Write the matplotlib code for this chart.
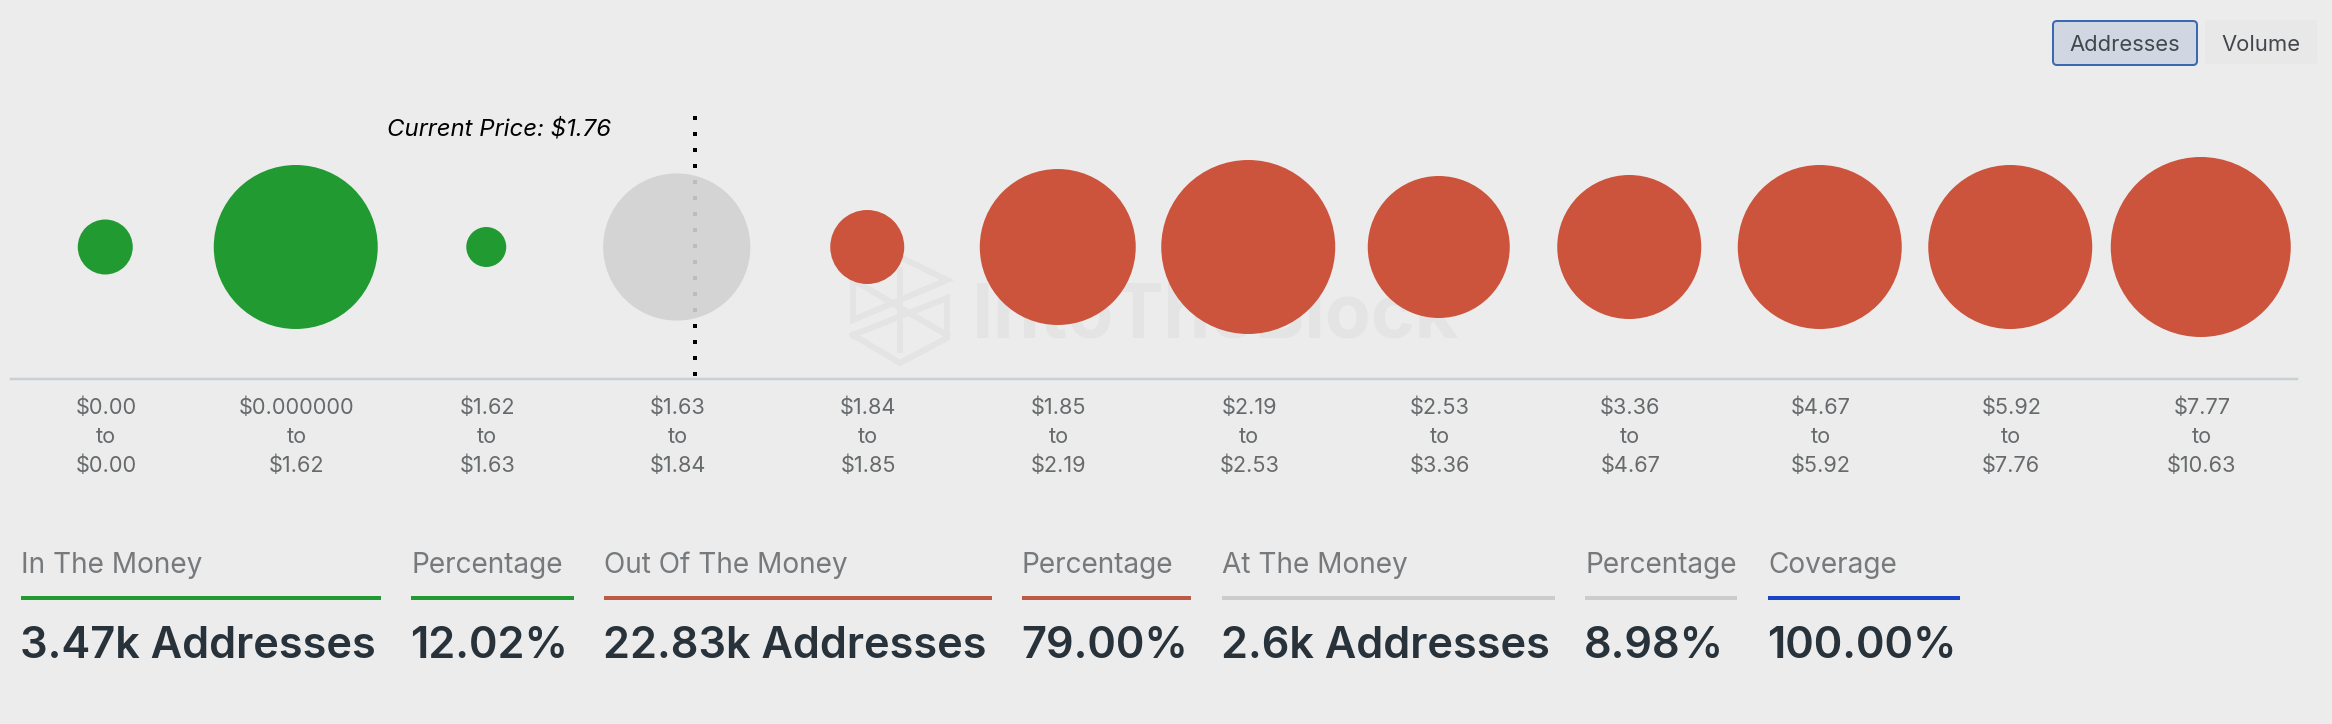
import matplotlib
matplotlib.use("Agg")
import numpy as np
import matplotlib.pyplot as plt
from matplotlib.patches import FancyBboxPatch
from matplotlib.transforms import Affine2D

# ---- data ----
range_labels = ["$0.00\nto\n$0.00", "$0.000000\nto\n$1.62", "$1.62\nto\n$1.63", "$1.63\nto\n$1.84",
                "$1.84\nto\n$1.85", "$1.85\nto\n$2.19", "$2.19\nto\n$2.53", "$2.53\nto\n$3.36",
                "$3.36\nto\n$4.67", "$4.67\nto\n$5.92", "$5.92\nto\n$7.76", "$7.77\nto\n$10.63"]
addresses = [369, 3281, 195, 2643, 668, 2968, 3693, 2460, 2530, 3281, 3281, 3953]
status = ["in", "in", "in", "at", "out", "out", "out", "out", "out", "out", "out", "out"]
current_price_position = 3.09
current_price_label = "Current Price: $1.76"

stat_titles = ["In The Money", "Percentage", "Out Of The Money", "Percentage", "At The Money", "Percentage", "Coverage"]
stat_values = ["3.47k Addresses", "12.02%", "22.83k Addresses", "79.00%", "2.6k Addresses", "8.98%", "100.00%"]
stat_kinds = ["in", "in", "out", "out", "at", "at", "cov"]
stat_left = [21, 411, 604, 1022, 1222, 1585, 1768]
stat_right = [381, 574, 992, 1191, 1555, 1737, 1960]

# ---- style ----
BG = "#ececec"
bubble_colors = {"in": "#229a32", "out": "#cc533c", "at": "#d2d2d2"}
rule_colors = {"in": "#229a32", "out": "#bc5a48", "at": "#cccccc", "cov": "#1a44c8"}
W, H, DPI = 2332, 724, 100
px = 72 / DPI
plt.rcParams["font.family"] = ["Inter", "DejaVu Sans"]

fig = plt.figure(figsize=(W / DPI, H / DPI), dpi=DPI, facecolor=BG)

# overlay in pixel coordinates (watermark, stats, buttons)
ov = fig.add_axes([0, 0, 1, 1], zorder=0)
ov.set_xlim(0, W); ov.set_ylim(H, 0); ov.axis("off")

# watermark
wm = "#e4e4e4"
for pts in ([(853, 280), (900, 257), (947, 280), (853, 320), (853, 280)],
            [(853, 335), (947, 298), (947, 338), (900, 363), (853, 335)],
            [(900, 270), (900, 350)], [(853, 280), (947, 335)]):
    xs, ys = zip(*pts)
    ov.plot(xs, ys, color=wm, lw=6 * px, solid_joinstyle="miter")
ov.text(972, 337, "IntoTheBlock", fontsize=75 * px, fontweight="bold", color=wm, ha="left", va="baseline")

# chart axes
ax = fig.add_axes([11 / W, 1 - 379 / H, (2297 - 11) / W, (379 - 100) / H], zorder=1)
ax.patch.set_alpha(0)
ax.set_xlim(-0.5, 11.5)
ax.set_ylim(-132, 147)
for s in ("top", "left", "right"):
    ax.spines[s].set_visible(False)
ax.spines["bottom"].set_color("#c8d0d3")
ax.spines["bottom"].set_linewidth(2.5 * px)
ax.set_yticks([])
ax.set_xticks(range(len(range_labels)))
ax.set_xticklabels(range_labels, fontsize=21.7 * px, color="#666a6c", linespacing=1.53)
ax.tick_params(axis="x", length=0, pad=13.5)

ax.axvline(current_price_position, ymin=0.0108, ymax=0.9427, color="black", lw=4 * px,
           linestyle=(0, (1, 3)), dash_capstyle="butt", zorder=1)

area_per_px2 = 0.488  # addresses per px^2 of radius squared
radii_px = np.sqrt(np.array(addresses) / area_per_px2)
sizes = (2 * radii_px * px) ** 2
ax.scatter(range(len(addresses)), np.zeros(len(addresses)), s=sizes,
           c=[bubble_colors[k] for k in status], linewidths=0, zorder=2,
           alpha=[0.9 if k == "at" else 1 for k in status], clip_on=False,
           transform=ax.transData + Affine2D().translate(-1, 0))
ax.text(387, 129, current_price_label, transform=ov.transData, fontsize=24 * px, style="italic",
        color="black", ha="left", va="center")

# stats
for t, v, k, l, r in zip(stat_titles, stat_values, stat_kinds, stat_left, stat_right):
    ov.text(l, 573, t, fontsize=28 * px, color="#777a7d", ha="left", va="baseline")
    ov.plot([l, r], [598, 598], color=rule_colors[k], lw=4 * px, solid_capstyle="butt")
    ov.text(l - 1, 658, v, fontsize=43.3 * px, fontweight="semibold", color="#27323a", ha="left", va="baseline")

# buttons
ov.add_patch(FancyBboxPatch((2053, 21), 144, 44, boxstyle="round,pad=0,rounding_size=4",
                            fc="#d0d7e3", ec="#3a69b0", lw=2 * px))
ov.add_patch(FancyBboxPatch((2205, 20), 112, 44, boxstyle="round,pad=0,rounding_size=2",
                            fc="#e8e8e8", ec="none"))
ov.text(2125, 45, "Addresses", fontsize=22 * px, color="#44484c", ha="center", va="center")
ov.text(2261, 45, "Volume", fontsize=22 * px, color="#44484c", ha="center", va="center")

fig.savefig("out.png", dpi=DPI, facecolor=BG)
